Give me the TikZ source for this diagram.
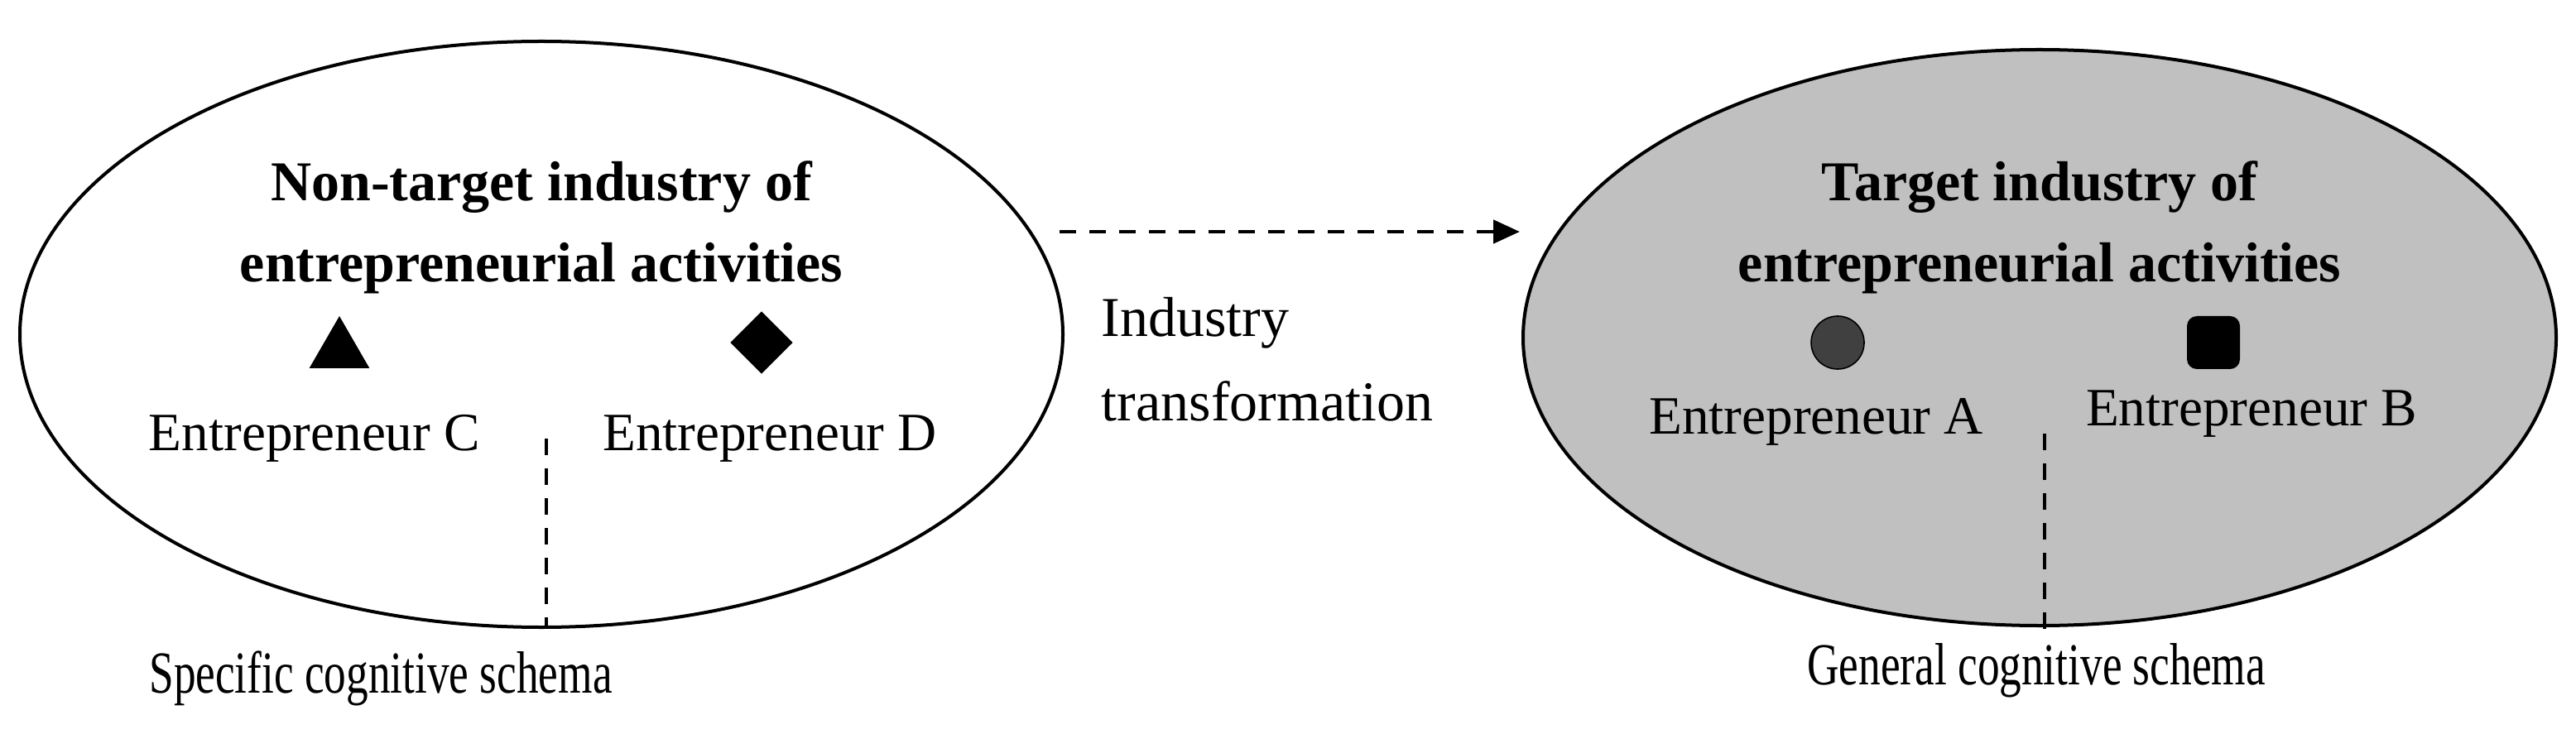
\documentclass[tikz,border=0pt]{standalone}
\usepackage{fontspec}
\setmainfont{Liberation Serif}
\usetikzlibrary{arrows.meta,shapes.geometric}
\begin{document}
\begin{tikzpicture}[x=0.5pt,y=-0.5pt,
  lbl/.style={font=\fontsize{16.3}{19}\selectfont,inner sep=0pt},
  ttl/.style={font=\fontsize{17}{20}\selectfont\bfseries,inner sep=0pt},
  big/.style={font=\fontsize{18}{21}\selectfont,inner sep=0pt},
  dl/.style={dashed,line width=1.2pt,dash pattern=on 5pt off 4pt}]
\useasboundingbox (0,0) rectangle (1556,443.5);
\node[draw,ellipse,line width=1pt,minimum width=315pt,minimum height=177pt] (L) at (327,202) {};
\node[draw,ellipse,line width=1pt,fill={rgb,255:red,192;green,192;blue,192},minimum width=312pt,minimum height=174pt] (R) at (1232,204) {};
\node[ttl] (lt1) at (327,113) {Non-target industry of};
\node[ttl] (lt2) at (327,162) {entrepreneurial activities};
\node[ttl] (rt1) at (1232,113) {Target industry of};
\node[ttl] (rt2) at (1232,162) {entrepreneurial activities};
\node[fill=black,regular polygon,regular polygon sides=3,inner sep=0pt,minimum size=21pt] (tri) at (205,212) {};
\node[fill=black,diamond,inner sep=0pt,minimum size=19pt] (dia) at (460,207) {};
\node[fill={rgb,255:red,64;green,64;blue,64},draw=black,circle,inner sep=0pt,minimum size=16pt] (cir) at (1110,207) {};
\node[fill=black,rounded corners=3pt,inner sep=0pt,minimum size=16pt] (sq) at (1337,207) {};
\node[lbl] (ec) at (190,265) {Entrepreneur C};
\node[lbl] (ed) at (465,265) {Entrepreneur D};
\node[lbl] (ea) at (1097,255) {Entrepreneur A};
\node[lbl] (eb) at (1360,250) {Entrepreneur B};
\coordinate (l1) at (330,265);
\node[big] (sp) at (230,410) {\scalebox{0.74}[1]{Specific cognitive schema}};
\coordinate (r1) at (1235,262);
\node[big] (gn) at (1230,405) {\scalebox{0.74}[1]{General cognitive schema}};
\draw[dl] (l1) -- (330,380);
\draw[dl] (r1) -- (1235,380);
\coordinate (a1) at (640,140);
\coordinate (a2) at (918,140);
\draw[dl,-{Triangle[length=8pt,width=7pt]}] (a1) -- (a2);
\node[lbl,align=left,anchor=west,font=\fontsize{17}{25.5}\selectfont] (it) at (665,217) {Industry\\transformation};
\end{tikzpicture}
\end{document}
